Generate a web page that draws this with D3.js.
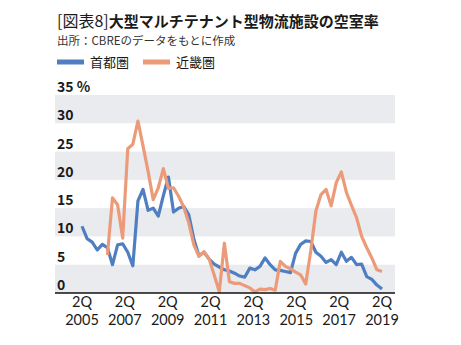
<!DOCTYPE html>
<html>
<head>
<meta charset="utf-8">
<script src="https://cdn.jsdelivr.net/npm/d3@7"></script>
<style>
  body { margin: 0; background: #fff; }
  text { font-family: "Noto Sans CJK JP", "Noto Sans", sans-serif; }
  .xlab text { font-family: Lato, "Noto Sans", sans-serif; }
</style>
</head>
<body>
<div id="chart-area"></div>
<script>
// data: quarterly vacancy rate (%), 2Q2005 - 1Q2020
const quarters = d3.range(60).map(i => {
    const q = (i + 1) % 4 + 1, y = 2005 + Math.floor((i + 1) / 4);
    return q + "Q" + y;
});
const tokyo = [11.8, 9.6, 9.0, 7.6, 8.6, 8.0, 5.0, 8.5, 8.7, 7.2,
    4.8, 16.3, 18.3, 14.6, 15.0, 13.6, 17.2, 20.5, 14.3, 15.0,
    15.3, 13.8, 9.5, 6.6, 7.2, 6.0, 5.1, 4.6, 4.1, 3.9,
    3.5, 3.0, 2.8, 4.4, 4.1, 4.7, 6.2, 5.0, 4.1, 4.0,
    3.8, 3.6, 7.0, 8.6, 9.2, 9.1, 7.2, 6.5, 5.4, 5.9,
    5.0, 7.2, 5.6, 6.3, 5.0, 5.1, 2.9, 2.4, 1.4, 0.7];
const kinki = [null, null, null, null, null, 6.7, 16.8, 15.6, 9.7, 25.5,
    26.3, 30.4, 26.0, 21.5, 16.5, 18.6, 22.0, 18.5, 18.6, 17.1,
    15.2, 12.4, 8.5, 6.5, 7.3, 6.0, 3.2, 0.2, 8.8, 2.0,
    1.7, 1.7, 1.3, 0.9, 0.2, 0.7, 0.6, 0.8, 0.5, 5.6,
    4.7, 4.3, 3.7, 3.2, 1.6, 7.5, 14.5, 17.4, 18.3, 15.4,
    19.5, 21.4, 17.8, 15.5, 13.3, 10.0, 8.0, 6.2, 4.1, 3.8];
const seriesNames = ["首都圏", "近畿圏"];
const colors = ["#4f7fc1", "#ec9b79"];
const yTicks = [0, 5, 10, 15, 20, 25, 30, 35];
const xTickLabels = ["2005", "2007", "2009", "2011", "2013", "2015", "2017", "2019"];

const full_width = 461, full_height = 345;
const plot = { left: 55, right: 395, top: 95, bottom: 293 };

const svg = d3.select("#chart-area").append("svg")
    .attr("width", full_width).attr("height", full_height);

// title
const title = svg.append("text").attr("x", 57).attr("y", 27).attr("fill", "#1a1a1a");
title.append("tspan").attr("font-size", "16px").attr("font-weight", "normal").text("[図表8]");
title.append("tspan").attr("font-size", "15px").attr("font-weight", "bold").text("大型マルチテナント型物流施設の空室率");

svg.append("text").attr("x", 57).attr("y", 45).attr("font-size", "11.5px").attr("fill", "#333")
    .text("出所：CBREのデータをもとに作成");

// legend
const legend = svg.selectAll(".legend").data(seriesNames).enter().append("g")
    .attr("class", "legend")
    .attr("transform", (d, i) => "translate(" + (57 + i * 86) + ", 62)");
legend.append("line").attr("x1", 0).attr("x2", 27).attr("y1", 0).attr("y2", 0)
    .attr("stroke", (d, i) => colors[i]).attr("stroke-width", 5);
legend.append("text").attr("x", 33).attr("y", 5).attr("font-size", "13px").attr("fill", "#1a1a1a")
    .text(d => d);

// scales
const x = d3.scaleLinear().domain([0, quarters.length - 1]).range([82, 382]);
const y = d3.scaleLinear().domain([0, 35]).range([plot.bottom, plot.top]);

// alternating bands
const bands = d3.pairs(yTicks).filter((d, i) => i % 2 === 0);
svg.selectAll(".band").data(bands).enter().append("rect")
    .attr("class", "band")
    .attr("x", plot.left).attr("width", plot.right - plot.left)
    .attr("y", d => y(d[1])).attr("height", d => y(d[0]) - y(d[1]))
    .attr("fill", "#e9ebee");

// y labels
svg.selectAll(".ylab").data(yTicks).enter().append("text")
    .attr("class", "ylab")
    .attr("x", 57).attr("y", d => y(d) - 3)
    .attr("font-size", "14px").attr("font-weight", "bold").attr("fill", "#1a1a1a")
    .text(d => d === 35 ? "35 %" : d);

// lines
const line = d3.line().defined(d => d != null).x((d, i) => x(i)).y(d => y(d));
[tokyo, kinki].forEach((s, k) => {
    svg.append("path").datum(s)
        .attr("fill", "none").attr("stroke", colors[k]).attr("stroke-width", 3.2)
        .attr("stroke-linejoin", "round")
        .attr("d", line);
});

// x axis
svg.append("line").attr("x1", plot.left).attr("x2", plot.right)
    .attr("y1", plot.bottom).attr("y2", plot.bottom)
    .attr("stroke", "#111").attr("stroke-width", 1.5);

const xl = d3.scalePoint().domain(xTickLabels).range([x(0), x(quarters.length - 1)]);
const xlab = svg.selectAll(".xlab").data(xTickLabels).enter().append("g").attr("class", "xlab");
xlab.append("text").attr("x", d => xl(d)).attr("y", 307)
    .attr("text-anchor", "middle").attr("font-size", "14.5px").attr("fill", "#1a1a1a").text("2Q");
xlab.append("text").attr("x", d => xl(d)).attr("y", 324.5)
    .attr("text-anchor", "middle").attr("font-size", "14.5px").attr("fill", "#1a1a1a").text(d => d);
</script>
</body>
</html>
